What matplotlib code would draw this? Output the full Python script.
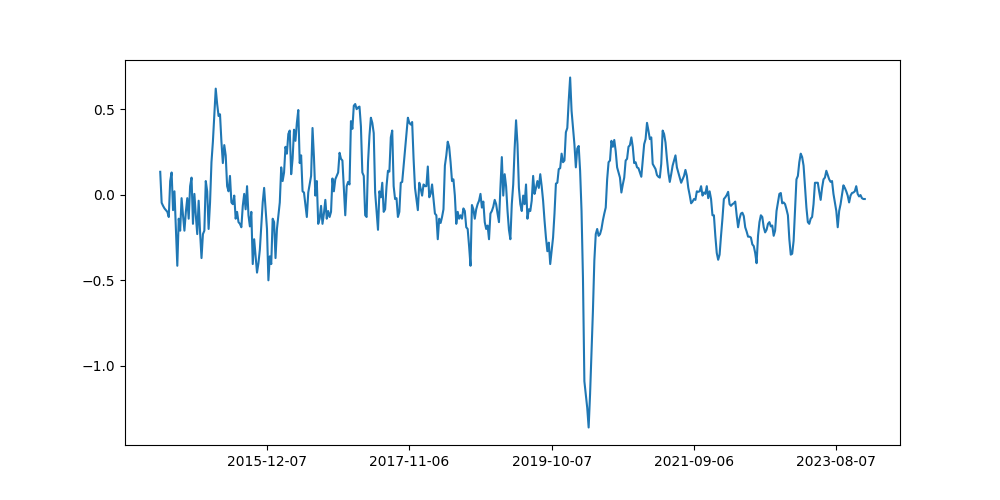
"""
weekly series line chart, 2014-06-30 .. 2023-12-25
"""
import matplotlib
matplotlib.use("Agg")
import matplotlib.dates as mdates
import matplotlib.pyplot as plt
import numpy as np
import pandas as pd
from matplotlib.ticker import MultipleLocator

START_DATE = "2014-06-30"

# weekly values (split in chunks of ~80 weeks)
values_2014_2016 = [
    0.134, -0.047, -0.065, -0.08, -0.09, -0.10, -0.13, 0.08, 0.13, -0.09,
    0.02, -0.20, -0.415, -0.14, -0.21, -0.02, -0.12, -0.21, -0.10, -0.02,
    -0.14, 0.05, 0.10, -0.17, 0.005, -0.12, -0.23, -0.035, -0.22, -0.37,
    -0.23, -0.21, 0.08, 0.02, -0.20, -0.045, 0.19, 0.31, 0.47, 0.62,
    0.53, 0.46, 0.47, 0.31, 0.185, 0.29, 0.23, 0.05, 0.02, 0.11,
    -0.045, -0.055, -0.005, -0.14, -0.10, -0.16, -0.17, -0.19, -0.065, 0.005,
    -0.085, 0.05, -0.12, -0.185, -0.10, -0.405, -0.26, -0.36, -0.455, -0.40,
    -0.32, -0.18, -0.045, 0.04, -0.08, -0.20, -0.50, -0.36, -0.405, -0.14,
    -0.16,
]
values_2016_2017 = [
    -0.37, -0.20, -0.12, -0.045, 0.16, 0.08, 0.13, 0.28, 0.24, 0.355,
    0.375, 0.12, 0.21, 0.38, 0.315, 0.42, 0.495, 0.185, 0.23, 0.02,
    0.013, -0.06, -0.13, 0.013, 0.06, 0.11, 0.39, 0.22, -0.005, 0.08,
    -0.17, -0.14, -0.065, -0.17, -0.11, -0.03, -0.14, -0.095, -0.13, -0.10,
    0.095, 0.02, 0.09, 0.11, 0.13, 0.245, 0.21, 0.20, 0.04, -0.12,
    0.05, 0.075, 0.06, 0.43, 0.385, 0.52, 0.53, 0.50, 0.51, 0.515,
    0.40, 0.13, 0.11, -0.12, -0.13, 0.19, 0.345, 0.45, 0.42, 0.36,
    0.013, -0.10, -0.205, 0.02, -0.015, 0.07, -0.10, -0.085, 0.05, 0.14,
    0.135, 0.335, 0.375,
]
values_2017_2019 = [
    0.05, -0.025, -0.02, -0.13, -0.10, 0.07, 0.075, 0.17, 0.27, 0.36,
    0.45, 0.42, 0.41, 0.425, 0.21, 0.04, -0.025, -0.09, 0.07, 0.035,
    -0.005, 0.06, 0.05, 0.05, 0.165, -0.015, 0.005, 0.06, -0.025, -0.11,
    -0.12, -0.26, -0.14, -0.165, -0.13, -0.085, 0.17, 0.23, 0.31, 0.28,
    0.19, 0.08, 0.09, -0.005, -0.17, -0.10, -0.14, -0.12, -0.14, -0.08,
    -0.095, -0.19, -0.20, -0.30, -0.415, -0.06, -0.085, -0.14, -0.085, -0.055,
    -0.035, 0.005, -0.075, -0.04, -0.16, -0.20, -0.18, -0.26, -0.11, -0.095,
    -0.07, -0.03, -0.055, -0.11, -0.16, 0.04, 0.22, -0.005, 0.12, 0.05,
    -0.095, -0.205, -0.26,
]
values_2019_2021 = [
    -0.055, 0.06, 0.27, 0.435, 0.295, 0.04, -0.055, -0.095, -0.005, -0.055,
    0.06, -0.14, -0.085, -0.095, -0.035, 0.11, 0.005, 0.04, 0.08, 0.04,
    0.12, 0.05, -0.035, -0.15, -0.25, -0.33, -0.28, -0.405, -0.33, -0.25,
    -0.11, 0.065, 0.07, 0.15, 0.155, 0.24, 0.19, 0.20, 0.365, 0.39,
    0.55, 0.685, 0.49, 0.39, 0.295, 0.16, 0.27, 0.285, 0.14, -0.095,
    -0.485, -1.09, -1.165, -1.245, -1.36, -1.165, -0.93, -0.68, -0.385, -0.23,
    -0.20, -0.24, -0.23, -0.20, -0.15, -0.11, -0.075, 0.09, 0.19, 0.20,
    0.315, 0.28, 0.32, 0.255, 0.16, 0.13, 0.10, 0.013, 0.06, 0.10,
    0.20,
]
values_2021_2022 = [
    0.21, 0.28, 0.29, 0.335, 0.28, 0.185, 0.19, 0.16, 0.155, 0.13,
    0.105, 0.20, 0.295, 0.325, 0.42, 0.375, 0.325, 0.335, 0.18, 0.165,
    0.15, 0.115, 0.105, 0.10, 0.18, 0.375, 0.355, 0.305, 0.21, 0.13,
    0.075, 0.12, 0.17, 0.20, 0.23, 0.16, 0.13, 0.10, 0.07, 0.09,
    0.11, 0.145, 0.11, 0.04, -0.002, -0.05, -0.04, -0.025, -0.03, 0.02,
    0.017, 0.02, 0.05, -0.005, 0.013, 0.005, 0.05, -0.02, 0.02, -0.025,
    -0.12, -0.12, -0.24, -0.34, -0.38, -0.35, -0.24, -0.14, -0.025, -0.015,
    -0.002, 0.017, -0.055, -0.065, -0.055, -0.05, -0.04, -0.12, -0.19, -0.14,
    -0.11, -0.105, -0.125, -0.19, -0.215, -0.245,
]
values_2022_2023 = [
    -0.245, -0.25, -0.29, -0.30, -0.34, -0.40, -0.24, -0.16, -0.12, -0.13,
    -0.19, -0.22, -0.205, -0.17, -0.16, -0.185, -0.18, -0.24, -0.21, -0.095,
    -0.045, 0.005, 0.01, -0.05, -0.045, -0.055, -0.085, -0.12, -0.26, -0.35,
    -0.345, -0.27, -0.085, 0.09, 0.11, 0.19, 0.24, 0.22, 0.17, 0.05,
    -0.075, -0.16, -0.17, -0.14, -0.13, -0.055, 0.07, 0.07, 0.07, 0.017,
    -0.03, 0.04, 0.09, 0.10, 0.14, 0.115, 0.09, 0.075, 0.08, 0.005,
    -0.045, -0.095, -0.19, -0.095, -0.055, -0.002, 0.055, 0.04, 0.02, -0.005,
    -0.045, -0.005, 0.01, 0.013, 0.02, 0.05, 0.005, -0.01, -0.002, -0.02,
    -0.025, -0.025,
]

tick_labels = ["2015-12-07", "2017-11-06", "2019-10-07", "2021-09-06",
               "2023-08-07"]


def build_series():
    """
    glue the chunks together and put a weekly (monday) index on them
    :return: pandas series
    """
    values = np.concatenate([values_2014_2016, values_2016_2017,
                             values_2017_2019, values_2019_2021,
                             values_2021_2022, values_2022_2023])
    dates = pd.date_range(START_DATE, periods=len(values), freq="W-MON")
    return pd.Series(values, index=dates)


def main():
    series = build_series()

    fig, ax = plt.subplots(figsize=(10, 5), dpi=100)
    ax.plot(series.index, series.values, color="C0")

    ax.set_xticks(pd.to_datetime(tick_labels))
    ax.xaxis.set_major_formatter(mdates.DateFormatter("%Y-%m-%d"))
    ax.yaxis.set_major_locator(MultipleLocator(0.5))

    fig.savefig("out.png")


main()
